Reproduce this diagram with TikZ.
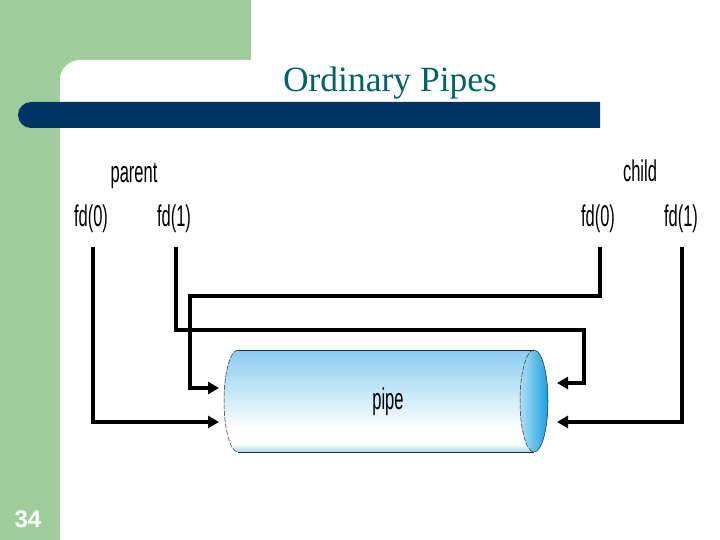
\documentclass[tikz,border=0pt]{standalone}
\usepackage{fontspec}
\setmainfont{Liberation Serif}
\newfontfamily\labfont{Liberation Sans}
\usetikzlibrary{arrows.meta}
\definecolor{slidegreen}{RGB}{158,205,155}
\definecolor{barblue}{RGB}{0,51,102}
\definecolor{titleteal}{RGB}{0,98,98}
\definecolor{pipetop}{RGB}{138,204,240}
\definecolor{pipebot}{RGB}{165,215,243}
\definecolor{capleft}{RGB}{175,222,246}
\definecolor{capright}{RGB}{25,160,222}
\pgfdeclareverticalshading{pipeshade}{100bp}{color(0bp)=(pipebot); color(25bp)=(pipebot); color(29bp)=(white); color(36bp)=(white); color(75bp)=(pipetop); color(100bp)=(pipetop)}
\tikzset{
  lab/.style={font=\labfont\fontsize{30}{32}\selectfont, xscale=0.55, inner sep=0pt, anchor=base},
  conn/.style={line width=3.3pt, -{Triangle[length=11pt,width=12pt]}},
  outline/.style={line width=0.5pt, draw=black!85},
}
\begin{document}
\begin{tikzpicture}[x=1pt,y=-1pt]
\useasboundingbox (0,0) rectangle (720,540);
% background
\fill[white] (0,0) rectangle (720,540);
\fill[slidegreen] (0,0) rectangle (251,90);
\fill[slidegreen] (0,0) rectangle (60,540);
\fill[white, rounded corners=20pt] (60,545) -- (60,60) -- (730,60) -- (730,545) -- cycle;
\fill[white] (60,90) rectangle (720,540);
% title bar
\fill[barblue] (600,102) -- (31,102) arc[start angle=270, end angle=90, radius=13] -- (600,128) -- cycle;
\node[font=\fontsize{35.5}{40}\selectfont, text=titleteal, anchor=base, inner sep=0pt] (title) at (390,92) {Ordinary Pipes};
% slide number
\node[font=\labfont\bfseries\fontsize{24}{26}\selectfont, text=white, anchor=base, inner sep=0pt] (num) at (28,527) {34};
% labels
\node[lab] (parent) at (134,183) {parent};
\node[lab] (pf0) at (91,226.5) {fd(0)};
\node[lab] (pf1) at (174,226.5) {fd(1)};
\node[lab] (child) at (640,182) {child};
\node[lab] (cf0) at (598,226.5) {fd(0)};
\node[lab] (cf1) at (681,226.5) {fd(1)};
% pipe (cylinder)
\shade[shading=pipeshade] (534,350) -- (238,350) arc[start angle=270, end angle=90, x radius=14, y radius=51] -- (534,452) -- cycle;
\shade[left color=capleft, right color=capright] (534,401) ellipse [x radius=14, y radius=51];
\draw[outline] (238,350) -- (534,350);
\draw[outline] (238,452) -- (534,452);
\draw[outline, dash pattern=on 5pt off 1.5pt] (238,350) arc[start angle=270, end angle=90, x radius=14, y radius=51];
\draw[outline, dash pattern=on 5pt off 1.5pt] (534,350) arc[start angle=270, end angle=90, x radius=14, y radius=51];
\draw[outline] (534,350) arc[start angle=-90, end angle=90, x radius=14, y radius=51];
\node[lab] (pipe) at (388,409) {pipe};
% connector coordinates
\coordinate (pf0s) at (93,247);
\coordinate (pf1s) at (176,247);
\coordinate (cf0s) at (600,247);
\coordinate (cf1s) at (682,247);
\coordinate (k1) at (584,330);
\coordinate (k2) at (190,296);
\coordinate (inL1) at (219,388);
\coordinate (inL2) at (219,422);
\coordinate (inR1) at (557,383);
\coordinate (inR2) at (557,422);
% connectors
\draw[conn] (pf0s) |- (inL2);
\draw[conn] (cf1s) |- (inR2);
\draw[conn] (cf0s) |- (k2) |- (inL1);
\draw[conn] (pf1s) |- (k1) |- (inR1);
\end{tikzpicture}
\end{document}
